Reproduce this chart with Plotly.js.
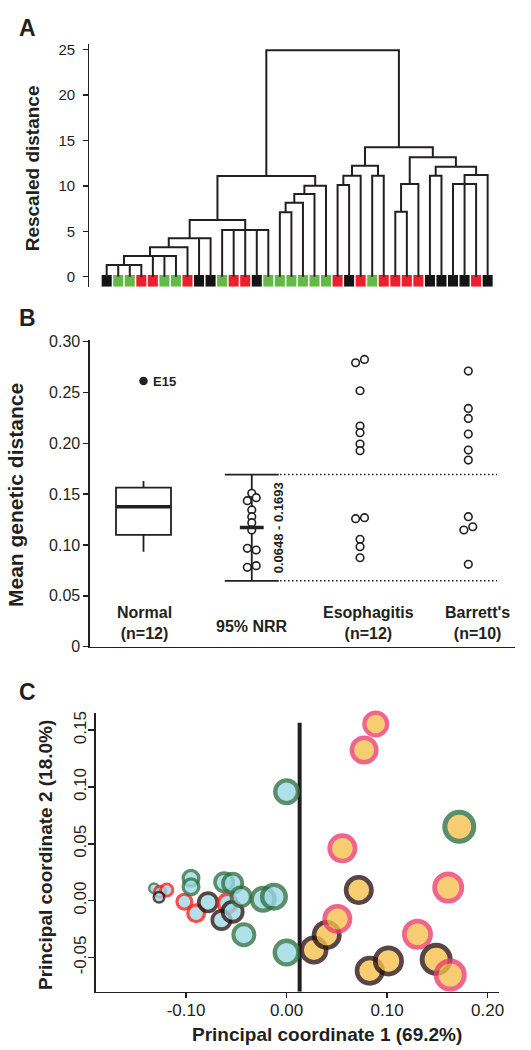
<!DOCTYPE html>
<html><head><meta charset="utf-8">
<script src="https://cdn.plot.ly/plotly-3.0.1.min.js"></script>
<style>html,body{margin:0;padding:0;background:#fff;} #chart{width:531px;height:1050px;}</style>
</head><body><div id="chart"></div>
<script>
// ================= DATA =================
// Panel A: dendrogram (34 samples). N = normal, E = esophagitis, B = Barrett's
const leafGroups = ['B','N','N','E','E','N','N','E','B','B','N','E','E','B','N','N','N','N','N','N',
                    'E','B','E','N','E','E','E','E','B','B','B','B','E','B'];
// positive numbers = leaf (1-based), negative numbers = earlier merge (1-based)
const mergeChildren = [
  [1,2,3,4], [-1,5,6,7], [-2,8], [-3,9,10], [11,12,13,14,15], [-4,-5],
  [16,17], [-7,18], [-8,19], [-9,20], [-6,-10],
  [21,22], [-12,23], [24,25], [-13,-14], [26,27], [-16,28], [29,30],
  [31,32,33], [-19,34], [-18,-20], [-17,-21], [-15,-22], [-11,-23]
];
const mergeHeights = [1.29, 2.28, 3.23, 4.22, 5.14, 6.24, 7.08, 8.14, 9.10, 10.0, 11.08,
                      10.09, 11.11, 11.11, 12.21, 7.15, 10.2, 11.11, 10.2, 11.19, 12.1, 13.13, 14.23, 24.9];
const distTicks = [0, 5, 10, 15, 20, 25];

// Panel B: mean genetic distance
const groupNames = ['Normal<br>(n=12)', '95% NRR', 'Esophagitis<br>(n=12)', "Barrett's<br>(n=10)"];
const normalStats = [0.0934, 0.110, 0.1377, 0.1564, 0.163]; // lower whisker, Q1, median, Q3, upper whisker
const outlierE15 = 0.2613;
const nrrValues = [0.1509, 0.1436, 0.1466, 0.1345, 0.1279, 0.1220, 0.1148, 0.0968, 0.0951, 0.0781, 0.0797];
const nrrDodge  = [0, -1, 1, 0, 0, 0, 0, -1, 1, -1, 1];
const nrrLimits = [0.0648, 0.1693];
const esoValues = [0.2793, 0.2826, 0.2518, 0.2170, 0.2105, 0.1993, 0.1928, 0.1259, 0.1269, 0.1056, 0.0984, 0.0875];
const esoDodge  = [-1, 1, 0, 0, 0, 0, 0, -1, 1, 0, 0, 0];
const barValues = [0.2711, 0.2344, 0.2246, 0.2092, 0.1934, 0.1836, 0.1279, 0.1148, 0.1180, 0.0810];
const barDodge  = [0, 0, 0, 0, 0, 0, 0, -1, 1, 0];
const distTicksB = [0, 0.05, 0.10, 0.15, 0.20, 0.25, 0.30];
const distTickTextB = ['0', '0.05', '0.10', '0.15', '0.20', '0.25', '0.30'];

// Panel C: principal coordinates
const pcX = [-0.1319, -0.1259, -0.1192, -0.1269, -0.1017, -0.0900, -0.0951, -0.0951, -0.0782, -0.0588,
             -0.0648, -0.0537, -0.0621, -0.0537, -0.0453, -0.0425, -0.0233, -0.0126, 0.0000, 0.0000,
              0.0272, 0.0399, 0.0505, 0.0555, 0.0718, 0.0771, 0.0887, 0.0827, 0.1013, 0.1302,
              0.1488, 0.1628, 0.1608, 0.1718];
const pcY = [ 0.0109, 0.0079, 0.0094, 0.0030, -0.0009, -0.0111, 0.0197, 0.0123, -0.0014, -0.0023,
             -0.0170, -0.0097, 0.0162, 0.0153, 0.0035, -0.0300, 0.0012, 0.0035, 0.0959, -0.0457,
             -0.0434, -0.0302, -0.0161, 0.0461, 0.0094, 0.1326, 0.1555, -0.0616, -0.0530, -0.0296,
             -0.0516, -0.0654, 0.0115, 0.0651];
const pcGroup = ['N','E','E','B','E','E','N','N','B','E','B','B','N','N','N','N','N','N','N','N',
                 'B','B','E','E','B','E','E','B','B','E','B','E','E','N'];
const pcBubble = [12, 14, 15, 13, 18, 20, 19, 19, 22, 22, 22, 24, 22, 23, 23, 25, 27, 28, 27, 28,
                  29, 30, 30, 30, 30, 29, 27, 30, 31, 31, 33, 33, 32, 34];
const cutPC1 = 0.013;
const cutTopPC2 = 0.1566;
const pc1Ticks = [-0.10, 0.00, 0.10, 0.20];
const pc2Ticks = [-0.05, 0.00, 0.05, 0.10, 0.15];

// ================= STYLE =================
const INK = '#231f20';
const FONT = 'Liberation Sans, Arial, Helvetica, sans-serif';
const leafColor = {N: '#62bb46', E: '#ee1f2d', B: '#141414'};
const W = 531, H = 1050;
const px = x => x / W, py = y => 1 - y / H;

const traces = [];

// ---------- Panel A ----------
const nodeX = [], nodeH = [];
const segX = [], segY = [];
function childPos(c) { return c > 0 ? {x: c - 1, h: 0} : {x: nodeX[-c - 1], h: nodeH[-c - 1]}; }
mergeChildren.forEach((ch, i) => {
  const h = mergeHeights[i];
  const ps = ch.map(childPos).sort((a, b) => a.x - b.x);
  const first = ps[0], last = ps[ps.length - 1];
  segX.push(first.x, first.x, last.x, last.x, null);
  segY.push(first.h, h, h, last.h, null);
  ps.slice(1, -1).forEach(p => { segX.push(p.x, p.x, null); segY.push(p.h, h, null); });
  nodeX[i] = (first.x + last.x) / 2; nodeH[i] = h;
});
traces.push({type: 'scatter', mode: 'lines', x: segX, y: segY, xaxis: 'x', yaxis: 'y',
  line: {color: INK, width: 2}, hoverinfo: 'skip', cliponaxis: false});
traces.push({type: 'bar', x: leafGroups.map((g, i) => i), y: leafGroups.map(() => 1.3),
  base: leafGroups.map(() => -1.1), width: 0.87, xaxis: 'x', yaxis: 'y',
  marker: {color: leafGroups.map(g => leafColor[g]), line: {width: 0}}, hoverinfo: 'skip'});

// ---------- Panel B ----------
const DODGE = 0.041;
traces.push({type: 'box', x: [0], q1: [normalStats[1]], median: [normalStats[2]], q3: [normalStats[3]],
  lowerfence: [normalStats[0]], upperfence: [normalStats[4]], width: 0.508, whiskerwidth: 0,
  boxpoints: false, fillcolor: 'rgba(0,0,0,0)', line: {color: INK, width: 1.8},
  xaxis: 'x2', yaxis: 'y2', hoverinfo: 'skip'});
traces.push({type: 'scatter', mode: 'lines', x: [-0.254, 0.254], y: [normalStats[2], normalStats[2]],
  xaxis: 'x2', yaxis: 'y2', line: {color: INK, width: 3.6}, hoverinfo: 'skip'});
traces.push({type: 'scatter', mode: 'markers', x: [0], y: [outlierE15], xaxis: 'x2', yaxis: 'y2',
  marker: {color: INK, size: 8.5}, hoverinfo: 'skip'});
// NRR interval
const nrrMean = nrrValues.reduce((a, b) => a + b, 0) / nrrValues.length;
const errX = [1, 1, null, 1 - 0.249, 1 + 0.249, null, 1 - 0.249, 1 + 0.249];
const errY = [nrrLimits[0], nrrLimits[1], null, nrrLimits[0], nrrLimits[0], null, nrrLimits[1], nrrLimits[1]];
traces.push({type: 'scatter', mode: 'lines', x: errX, y: errY, xaxis: 'x2', yaxis: 'y2',
  line: {color: INK, width: 1.8}, hoverinfo: 'skip'});
traces.push({type: 'scatter', mode: 'lines', x: [1.261, 3.265, null, 1.261, 3.265],
  y: [nrrLimits[0], nrrLimits[0], null, nrrLimits[1], nrrLimits[1]], xaxis: 'x2', yaxis: 'y2',
  line: {color: INK, width: 1.5, dash: '1.5px,2.5px'}, hoverinfo: 'skip'});
function dots(vals, dodge, gi) {
  return {type: 'scatter', mode: 'markers', x: vals.map((v, i) => gi + dodge[i] * DODGE), y: vals,
    xaxis: 'x2', yaxis: 'y2', marker: {size: 7.6, color: '#ffffff', line: {color: INK, width: 1.6}},
    hoverinfo: 'skip', cliponaxis: false};
}
traces.push(dots(nrrValues, nrrDodge, 1));
traces.push({type: 'scatter', mode: 'lines', x: [1 - 0.11, 1 + 0.11], y: [nrrMean, nrrMean],
  xaxis: 'x2', yaxis: 'y2', line: {color: INK, width: 3.6}, hoverinfo: 'skip'});
traces.push(dots(esoValues, esoDodge, 2));
traces.push(dots(barValues, barDodge, 3));

// ---------- Panel C ----------
const edgeLeft  = {N: '#2d7041', E: '#f51c1c', B: '#2a1212'};
const edgeRight = {N: '#2d7041', E: '#ec3b6c', B: '#2a1212'};
const fillLeft = '#9ad8e4', fillRight = '#f5c04a';
const lw = pcBubble.map(d => 1 + 0.12 * d);
traces.push({type: 'scatter', mode: 'lines', x: [cutPC1, cutPC1], y: [-0.0801, cutTopPC2],
  xaxis: 'x3', yaxis: 'y3', line: {color: INK, width: 4}, hoverinfo: 'skip'});
traces.push({type: 'scatter', mode: 'markers', x: pcX, y: pcY, xaxis: 'x3', yaxis: 'y3',
  marker: {
    size: pcBubble.map((d, i) => d - lw[i]),
    color: pcX.map(x => x < cutPC1 ? fillLeft : fillRight),
    opacity: 0.78,
    line: {width: lw, color: pcX.map((x, i) => (x < cutPC1 ? edgeLeft : edgeRight)[pcGroup[i]])}
  }, hoverinfo: 'skip', cliponaxis: false});

// ================= LAYOUT =================
const axBase = {showgrid: false, zeroline: false, showline: true, linecolor: INK, linewidth: 1.6,
  tickcolor: INK, tickwidth: 1.5, ticks: 'outside', fixedrange: true};
const catX = (p) => (p - 143.5) / 108.27;

const annotations = [
  {text: '<b>A</b>', x: px(27), y: py(28.5), font: {size: 23}},
  {text: '<b>B</b>', x: px(27), y: py(318.3), font: {size: 23}},
  {text: '<b>C</b>', x: px(27), y: py(691.7), font: {size: 23}},
  {text: '<b>Rescaled distance</b>', x: px(32), y: py(168.3), textangle: -90, font: {size: 19}},
  {text: '<b>Mean genetic distance</b>', x: px(15), y: py(495), textangle: -90, font: {size: 21}},
  {text: '<b>Principal coordinate 2 (18.0%)</b>', x: px(45.5), y: py(855.5), textangle: -90, font: {size: 19}},
  {text: '<b>Principal coordinate 1 (69.2%)</b>', x: px(327), y: py(1034), font: {size: 19}},
].map(a => Object.assign({xref: 'paper', yref: 'paper', showarrow: false, xanchor: 'center', yanchor: 'middle'}, a));

const catLabelX = [catX(144.7), catX(251.9), catX(368.8), catX(477.3)];
groupNames.forEach((g, i) => {
  annotations.push({text: '<b>' + g + '</b>', x: catLabelX[i], y: i === 1 ? 0.0197 : 0.0230,
    xref: 'x2', yref: 'y2', showarrow: false, xanchor: 'center', yanchor: 'middle',
    font: {size: 16}, align: 'center'});
});
annotations.push({text: '<b>E15</b>', x: 0, y: outlierE15, xref: 'x2', yref: 'y2', showarrow: false,
  xanchor: 'left', yanchor: 'middle', xshift: 7, font: {size: 13}});
annotations.push({text: '<b>' + nrrLimits[0].toFixed(4) + ' - ' + nrrLimits[1].toFixed(4) + '</b>',
  x: catX(278), y: 0.1165, xref: 'x2', yref: 'y2', showarrow: false, textangle: -90,
  xanchor: 'center', yanchor: 'middle', font: {size: 13}});

const layout = {
  width: W, height: H, margin: {l: 0, r: 0, t: 0, b: 0},
  paper_bgcolor: '#ffffff', plot_bgcolor: 'rgba(0,0,0,0)', showlegend: false,
  font: {family: FONT, color: INK},
  barmode: 'overlay',
  xaxis: {domain: [px(89.3), px(497)], range: [-1.507, 33.81], visible: false, fixedrange: true, anchor: 'y'},
  yaxis: Object.assign({}, axBase, {domain: [py(286.7), py(44)], range: [-1.1, 25.6], anchor: 'x',
    tickvals: distTicks, ticklen: 4.5, tickfont: {size: 15}, ticklabelstandoff: 5}),
  xaxis2: Object.assign({}, axBase, {domain: [px(90), px(515)], range: [catX(90), catX(515)], anchor: 'y2',
    ticks: '', showticklabels: false}),
  yaxis2: Object.assign({}, axBase, {domain: [py(646.7), py(340)], range: [0, 0.3017], anchor: 'x2',
    tickvals: distTicksB, ticktext: distTickTextB, ticklen: 5, tickfont: {size: 16}, ticklabelstandoff: 0}),
  xaxis3: Object.assign({}, axBase, {domain: [px(95.5), px(499.3)], range: [-0.1901, 0.2116], anchor: 'y3',
    tickvals: pc1Ticks, ticktext: pc1Ticks.map(v => v.toFixed(2)), ticklen: 5, tickfont: {size: 17},
    ticklabelstandoff: -3}),
  yaxis3: Object.assign({}, axBase, {domain: [py(991.7), py(713.3)], range: [-0.0801, 0.1649], anchor: 'x3',
    tickvals: pc2Ticks, ticktext: pc2Ticks.map(v => v.toFixed(2)), ticklen: 6, tickfont: {size: 17},
    tickangle: -90, ticklabelstandoff: -5}),
  annotations: annotations
};

Plotly.newPlot('chart', traces, layout, {staticPlot: true, displayModeBar: false});
</script>
</body></html>
